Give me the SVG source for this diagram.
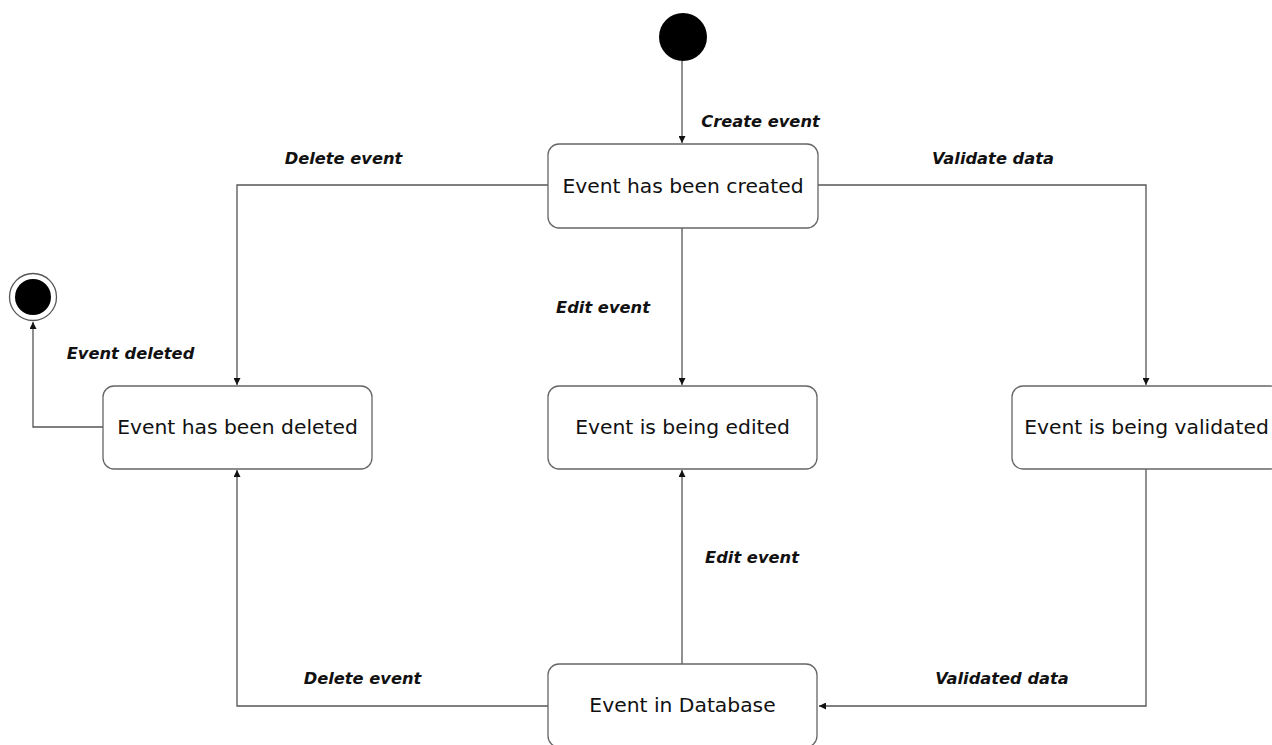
<svg xmlns="http://www.w3.org/2000/svg" width="1272" height="745" viewBox="0 0 1272 745">
<defs>
<marker id="arr" viewBox="0 0 10 10" refX="10" refY="5" markerWidth="7" markerHeight="7" markerUnits="userSpaceOnUse" orient="auto">
<path d="M0,0 L10,5 L0,10 z" fill="#111"/>
</marker>
<style>
.node rect{fill:#fff;stroke:#666;stroke-width:1.3}
.node text{font-family:"DejaVu Sans",Verdana,sans-serif;font-size:20.3px;fill:#111;text-anchor:middle;dominant-baseline:central}
.edge{fill:none;stroke:#555;stroke-width:1.3;marker-end:url(#arr)}
.lbl{font-family:"DejaVu Sans",Verdana,sans-serif;font-size:16.3px;font-weight:bold;font-style:italic;fill:#111;text-anchor:middle;dominant-baseline:central}
</style>
</defs>
<rect width="1272" height="745" fill="#fff"/>
<g id="connectors">
<path class="edge" d="M682,61 V143"/>
<path class="edge" d="M548,185 H237 V385"/>
<path class="edge" d="M682,228 V385"/>
<path class="edge" d="M818,185 H1146 V385"/>
<path class="edge" d="M103,427 H33 V322"/>
<path class="edge" d="M548,706 H237 V470"/>
<path class="edge" d="M682,664 V470"/>
<path class="edge" d="M1146,469 V706 H819"/>
<text class="lbl" x="760.5" y="121">Create event</text>
<text class="lbl" x="343.5" y="158">Delete event</text>
<text class="lbl" x="993" y="158">Validate data</text>
<text class="lbl" x="603" y="307">Edit event</text>
<text class="lbl" x="130.5" y="353">Event deleted</text>
<text class="lbl" x="752" y="557">Edit event</text>
<text class="lbl" x="362.5" y="678">Delete event</text>
<text class="lbl" x="1002" y="678">Validated data</text>
</g>
<g id="start"><circle cx="683" cy="37" r="24" fill="#000"/></g>
<g id="end"><circle cx="33" cy="297" r="23.5" fill="#fff" stroke="#555" stroke-width="1.3"/><circle cx="33" cy="297" r="18" fill="#000"/></g>
<g id="created" class="node"><rect x="548" y="144" width="270" height="84" rx="11"/><text x="683" y="186">Event has been created</text></g>
<g id="deleted" class="node"><rect x="103" y="386" width="269" height="83" rx="11"/><text x="237.5" y="427">Event has been deleted</text></g>
<g id="edited" class="node"><rect x="548" y="386" width="269" height="83" rx="11"/><text x="682.5" y="427">Event is being edited</text></g>
<g id="validated" class="node"><rect x="1012" y="386" width="269" height="83" rx="11"/><text x="1146.5" y="427">Event is being validated</text></g>
<g id="database" class="node"><rect x="548" y="664" width="269" height="83" rx="11"/><text x="682.5" y="705">Event in Database</text></g>
</svg>
